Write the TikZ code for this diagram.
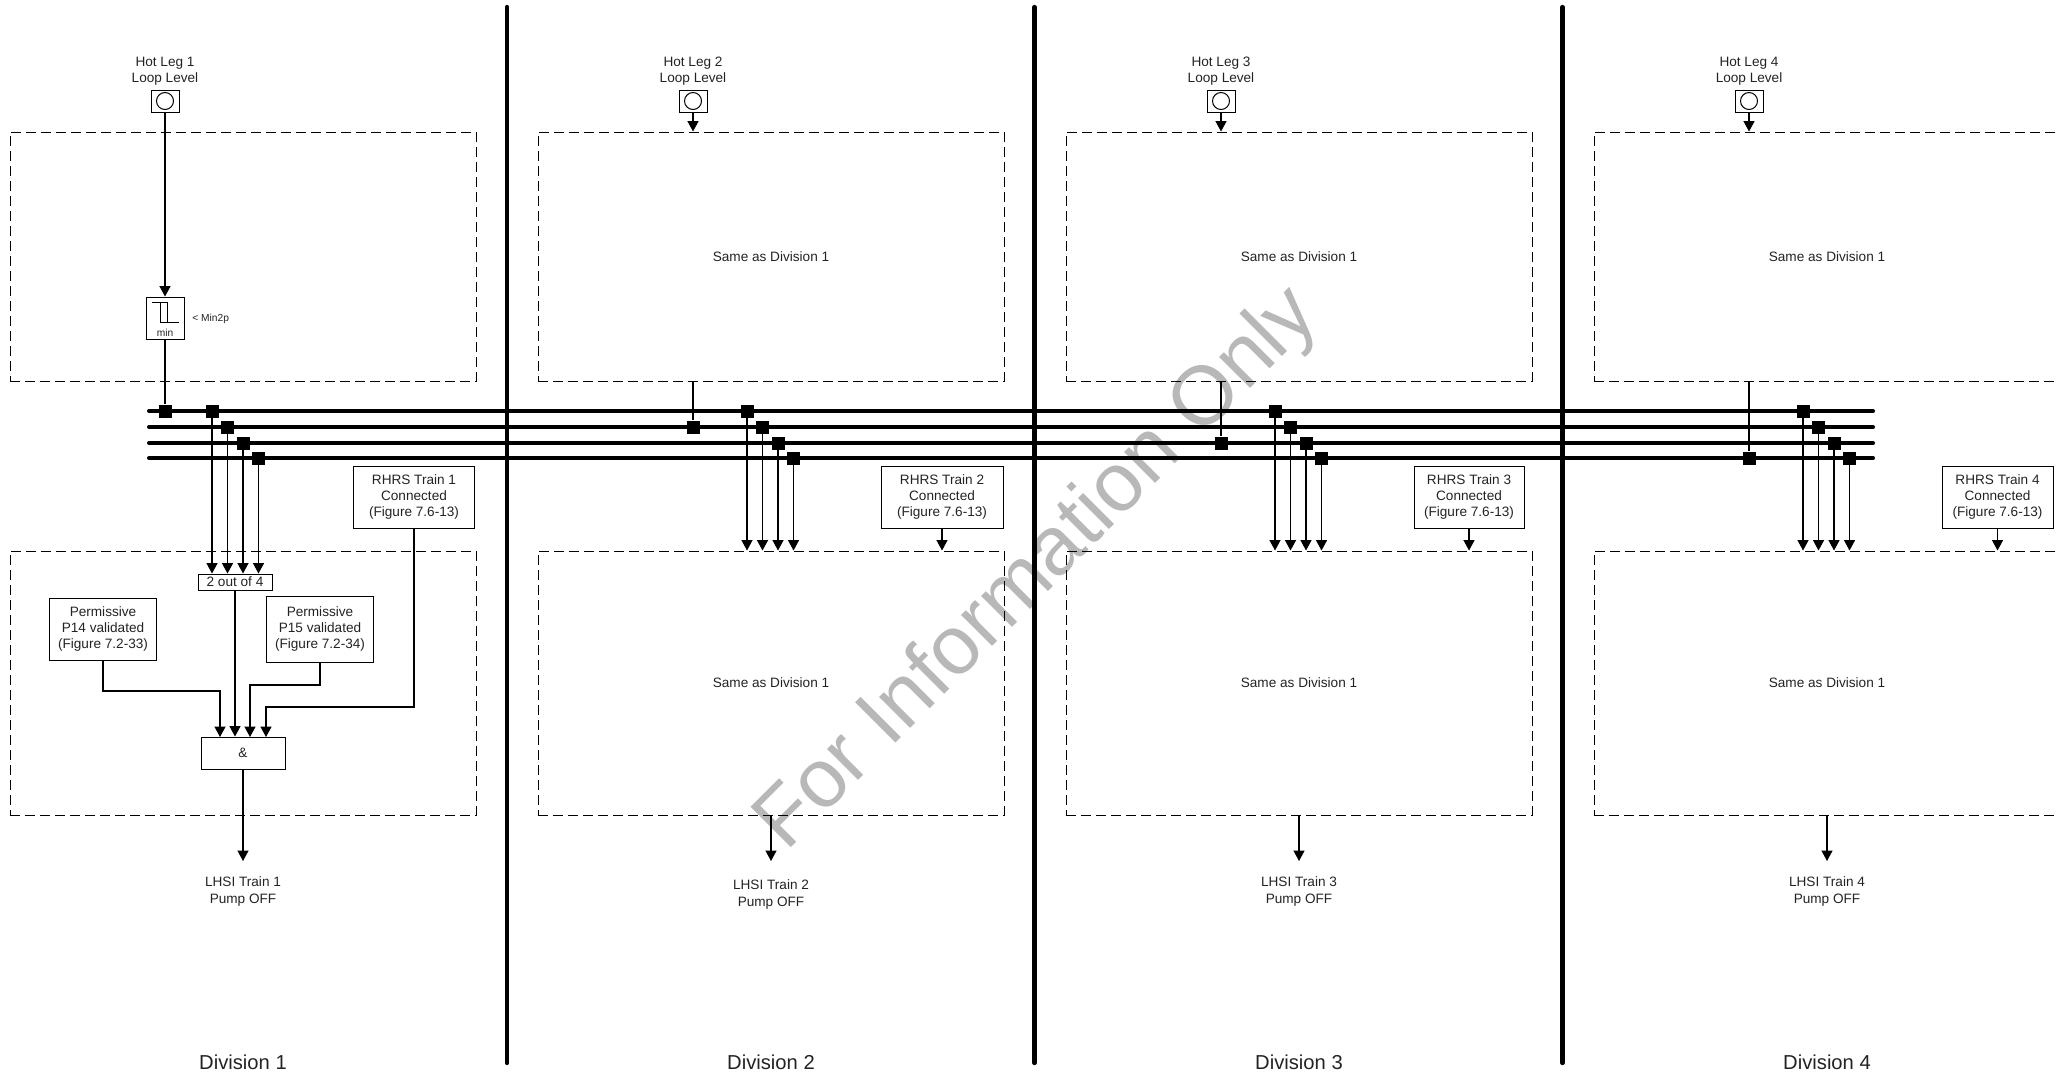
\documentclass[tikz,border=0pt]{standalone}
\usepackage{fontspec}
\setmainfont{Liberation Sans}
\usepackage{xcolor}
\usetikzlibrary{arrows.meta,positioning,calc}
\definecolor{stampgray}{RGB}{184,184,184}
\definecolor{inkgray}{RGB}{35,35,35}
\tikzset{
  lbl/.style={align=center,inner sep=0pt,text=inkgray,font=\fontsize{6.8}{8.2}\selectfont},
  tiny/.style={inner sep=0pt,text=inkgray,font=\fontsize{5.1}{6}\selectfont},
  divlbl/.style={inner sep=0pt,text=inkgray,font=\fontsize{10.1}{12}\selectfont},
  box/.style={draw,line width=0.5pt,align=center,inner sep=0pt,text=inkgray,font=\fontsize{6.8}{8.2}\selectfont},
  dashbox/.style={draw,line width=0.5pt,dash pattern=on 5pt off 2.5pt,minimum width=233pt,inner sep=0pt,text=inkgray,font=\fontsize{6.8}{8.2}\selectfont},
  jn/.style={fill=black,minimum size=6.5pt,inner sep=0pt},
  sig/.style={line width=0.55pt},
  arr/.style={line width=0.55pt,-{Triangle[length=5.2pt,width=5.5pt]}},
  bus/.style={line width=2pt,line cap=round},
  divider/.style={line width=2.1pt,line cap=round}
}
\begin{document}
\begin{tikzpicture}[x=0.5pt,y=-0.5pt]
\useasboundingbox (0,0) rectangle (2059,1076);
\node[rotate=45,anchor=base west,inner sep=0pt,text=stampgray,font=\fontsize{41.5}{41.5}\selectfont] (stamp) at (786,853) {For Information Only};
% dividers and buses
\coordinate (d1a) at (507,7);
\coordinate (d1b) at (507,1063);
\coordinate (d2a) at (1034.5,7);
\coordinate (d2b) at (1034.5,1063);
\coordinate (d3a) at (1562.5,7);
\coordinate (d3b) at (1562.5,1063);
\draw[divider] (d1a) -- (d1b);
\draw[divider] (d2a) -- (d2b);
\draw[divider] (d3a) -- (d3b);
\coordinate (b1a) at (149,411);
\coordinate (b1b) at (1873,411);
\coordinate (b2a) at (149,427);
\coordinate (b2b) at (1873,427);
\coordinate (b3a) at (149,443);
\coordinate (b3b) at (1873,443);
\coordinate (b4a) at (149,458);
\coordinate (b4b) at (1873,458);
\draw[bus] (b1a) -- (b1b);
\draw[bus] (b2a) -- (b2b);
\draw[bus] (b3a) -- (b3b);
\draw[bus] (b4a) -- (b4b);
% division 1
\node[lbl] (hot1) at (165,71) {Hot Leg 1\\Loop Level};
\node[box,minimum width=14pt,minimum height=11pt] (sens1) at (165,101) {};
\node[draw,circle,line width=0.5pt,minimum size=8.5pt,inner sep=0pt] (ring1) at (165,101) {};
\node[dashbox,minimum height=124.5pt] (up1) at (243,256.5) {};
\node[dashbox,minimum height=132pt] (low1) at (243,683) {};
\node[box,minimum width=19pt,minimum height=21pt] (minb) at (165,318) {};
\node[tiny] (mint) at (165,332.5) {min};
\node[tiny,anchor=west] (minp) at (192,318.5) {< Min2p};
\coordinate (g1) at (152,302);
\coordinate (g2) at (167,302);
\coordinate (g3) at (167,322);
\coordinate (g4) at (179,322);
\coordinate (g5) at (160,302);
\coordinate (g6) at (160,322);
\draw[line width=0.5pt] (g1) -- (g2) -- (g3) -- (g4);
\draw[line width=0.5pt] (g5) -- (g6) -- (g3);
\draw[arr] (sens1) -- (minb);
\node[jn] (jout1) at (165,411) {};
\draw[sig] (minb) -- (jout1);
\node[jn] (j11) at (212,411) {};
\node[jn] (j12) at (227.5,427) {};
\node[jn] (j13) at (243,443) {};
\node[jn] (j14) at (258.5,458) {};
\node[box,minimum width=37pt,minimum height=8pt] (vote) at (235,582) {2 out of 4};
\draw[arr] (j11) -- (j11 |- vote.north);
\draw[arr] (j12) -- (j12 |- vote.north);
\draw[arr] (j13) -- (j13 |- vote.north);
\draw[arr] (j14) -- (j14 |- vote.north);
\node[box,minimum width=53.5pt,minimum height=31pt] (p14) at (103,629) {Permissive\\P14 validated\\(Figure 7.2-33)};
\node[box,minimum width=53.5pt,minimum height=33pt] (p15) at (320,629) {Permissive\\P15 validated\\(Figure 7.2-34)};
\node[box,minimum width=60.5pt,minimum height=31pt] (rhrs1) at (414,497) {RHRS Train 1\\Connected\\(Figure 7.6-13)};
\node[box,minimum width=42pt,minimum height=16pt] (andg) at (243,753) {\&};
\coordinate (t14) at (220,691);
\coordinate (in14) at (220,737);
\coordinate (t15) at (250,685);
\coordinate (in15) at (250,737);
\coordinate (tr1) at (266,707);
\coordinate (inr1) at (266,737);
\draw[arr] (p14.south) |- (t14) -- (in14);
\draw[arr] (vote.south) -- (vote |- andg.north);
\draw[arr] (p15.south) |- (t15) -- (in15);
\draw[arr] (rhrs1.south) |- (tr1) -- (inr1);
\coordinate (out1) at (243,861);
\draw[arr] (andg) -- (out1);
\node[lbl] (lhsi1) at (243,891.5) {LHSI Train 1\\Pump OFF};
\node[divlbl] (div1) at (243,1062) {Division 1};
% divisions 2 to 4
\foreach \n/\dx/\jy/\ly/\rx/\rw in {2/528/427/894.5/942/61,3/1056/443/891.5/1469/55,4/1584/458/891.5/1997.5/55.5}{
  \node[lbl] (hot\n) at (165+\dx,71) {Hot Leg \n\\Loop Level};
  \node[box,minimum width=14pt,minimum height=11pt] (sens\n) at (165+\dx,101) {};
  \node[draw,circle,line width=0.5pt,minimum size=8.5pt,inner sep=0pt] (ring\n) at (165+\dx,101) {};
  \node[dashbox,minimum height=124.5pt] (up\n) at (243+\dx,256.5) {Same as Division 1};
  \node[dashbox,minimum height=132pt] (low\n) at (243+\dx,683) {Same as Division 1};
  \draw[arr] (sens\n) -- (sens\n |- up\n.north);
  \node[jn] (jout\n) at (165+\dx,\jy) {};
  \draw[sig] (jout\n |- up\n.south) -- (jout\n);
  \node[jn] (j\n1) at (219+\dx,411) {};
  \node[jn] (j\n2) at (234.5+\dx,427) {};
  \node[jn] (j\n3) at (250+\dx,443) {};
  \node[jn] (j\n4) at (265.5+\dx,458) {};
  \draw[arr] (j\n1) -- (j\n1 |- low\n.north);
  \draw[arr] (j\n2) -- (j\n2 |- low\n.north);
  \draw[arr] (j\n3) -- (j\n3 |- low\n.north);
  \draw[arr] (j\n4) -- (j\n4 |- low\n.north);
  \node[box,minimum width=\rw pt,minimum height=31pt] (rhrs\n) at (\rx,497) {RHRS Train \n\\Connected\\(Figure 7.6-13)};
  \draw[arr] (rhrs\n) -- (rhrs\n |- low\n.north);
  \coordinate (out\n) at (243+\dx,861);
  \draw[arr] (out\n |- low\n.south) -- (out\n);
  \node[lbl] (lhsi\n) at (243+\dx,\ly) {LHSI Train \n\\Pump OFF};
  \node[divlbl] (div\n) at (243+\dx,1062) {Division \n};
}
\end{tikzpicture}
\end{document}
